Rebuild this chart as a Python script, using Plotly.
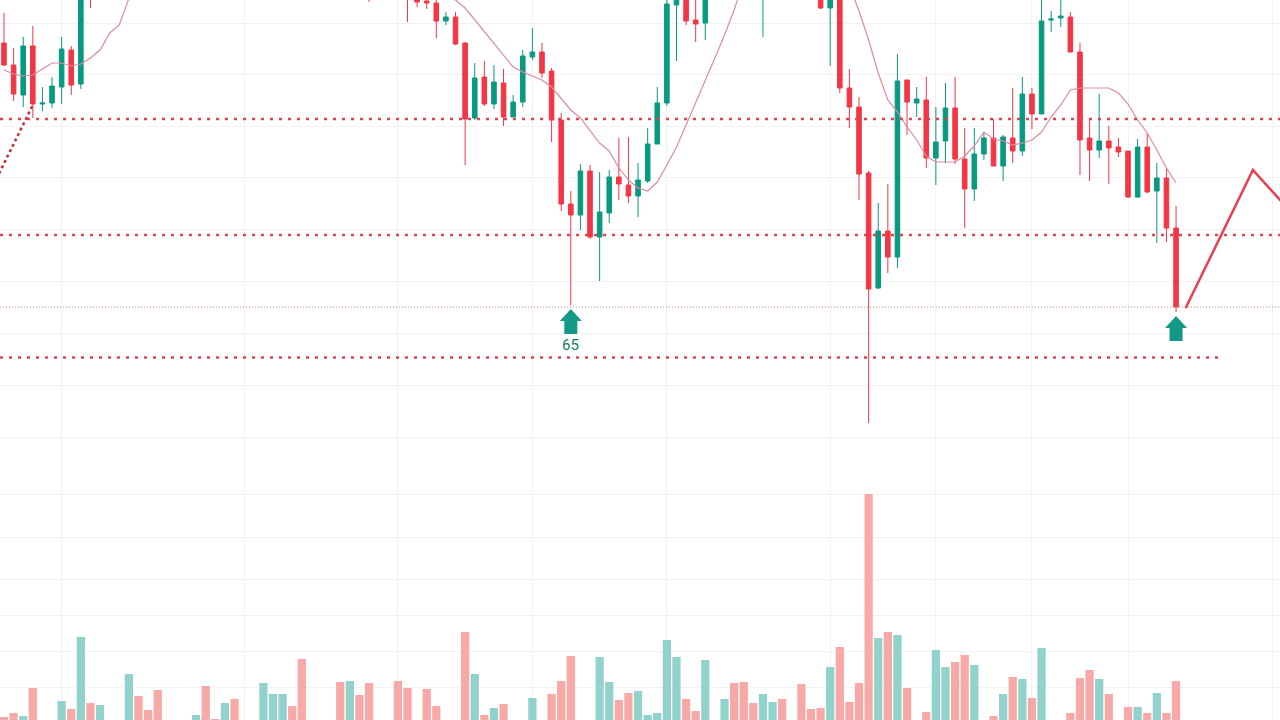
import plotly.graph_objects as go

# ---- candle data (price units) ----
opens = [677, 655, 625, 674, 616, 617, 633, 670, 636, 740,
         728, 765, 800, 790, 840, 820, 805, 780, 795, 815,
         810, 850, 820, 815, 845, 825, 835, 830, 860, 880,
         905, 890, 840, 850, 830, 815, 780, 800, 770, 735,
         750, 745, 735, 720, 719, 717, 699, 703, 677, 602,
         643, 616, 637, 603, 618, 663, 668, 649, 600, 516,
         505, 549, 483, 507, 543, 535, 524, 539, 576, 617,
         715, 725, 700, 697, 725, 760, 790, 770, 760, 740,
         755, 770, 750, 760, 735, 725, 712, 723, 632, 613,
         547, 432, 489, 463, 640, 617, 620, 562, 579, 612,
         561, 531, 566, 582, 554, 582, 569, 626, 606, 700,
         702, 703, 668, 582, 570, 579, 573, 569, 523, 573,
         529, 542, 492]
highs = [707, 672, 683, 694, 633, 643, 683, 674, 755, 755,
         775, 812, 815, 850, 855, 830, 815, 805, 820, 825,
         860, 865, 830, 855, 850, 840, 845, 870, 890, 915,
         915, 900, 860, 855, 840, 820, 810, 805, 780, 760,
         760, 755, 740, 725, 723, 722, 708, 708, 678, 657,
         659, 655, 651, 625, 670, 692, 677, 652, 607, 529,
         556, 555, 548, 550, 582, 583, 557, 592, 633, 722,
         740, 735, 722, 735, 765, 795, 800, 780, 770, 765,
         780, 775, 765, 765, 740, 730, 735, 728, 651, 623,
         549, 517, 536, 666, 640, 633, 643, 613, 637, 643,
         592, 592, 588, 601, 585, 632, 643, 632, 725, 709,
         722, 708, 677, 602, 626, 594, 582, 569, 581, 587,
         557, 551, 514]
lows = [654, 619, 613, 602, 609, 612, 616, 625, 631, 712,
        724, 760, 780, 785, 810, 795, 770, 775, 790, 800,
        805, 815, 805, 810, 815, 820, 820, 825, 850, 870,
        880, 830, 835, 820, 805, 770, 775, 760, 718, 728,
        735, 725, 698, 713, 711, 682, 695, 675, 555, 600,
        614, 611, 594, 603, 613, 660, 642, 578, 509, 415,
        490, 481, 439, 497, 520, 517, 503, 537, 576, 614,
        659, 695, 678, 680, 722, 750, 760, 750, 735, 683,
        745, 740, 745, 725, 722, 711, 654, 627, 592, 520,
        297, 431, 447, 452, 585, 603, 552, 535, 557, 556,
        492, 519, 560, 554, 539, 557, 564, 591, 606, 688,
        693, 668, 545, 539, 562, 536, 563, 522, 522, 527,
        477, 478, 408]
closes = [655, 626, 674, 616, 617, 634, 671, 635, 745, 725,
          765, 800, 790, 840, 820, 805, 780, 795, 815, 810,
          850, 820, 815, 845, 825, 835, 830, 860, 880, 905,
          890, 840, 850, 830, 815, 780, 800, 770, 735, 750,
          745, 730, 721, 718, 717, 699, 703, 676, 601, 642,
          616, 638, 603, 618, 664, 668, 647, 600, 516, 505,
          549, 483, 508, 543, 536, 524, 540, 576, 617, 716,
          730, 699, 696, 725, 760, 790, 770, 760, 740, 755,
          770, 750, 760, 735, 725, 712, 725, 632, 613, 546,
          431, 489, 463, 639, 618, 621, 562, 578, 612, 561,
          531, 566, 582, 554, 583, 569, 626, 606, 699, 701,
          704, 668, 580, 570, 579, 572, 568, 523, 573, 528,
          542, 492, 413]
volumes = [13, 17, 14, 42, 6, 8, 29, 21, 93, 27,
           25, 5, 7, 56, 34, 20, 40, 6, 4, 8,
           15, 44, 11, 27, 31, 5, 7, 47, 36, 36,
           24, 71, 6, 8, 5, 48, 49, 35, 47, 6,
           9, 49, 42, 7, 41, 24, 5, 8, 98, 56,
           15, 22, 26, 6, 9, 32, 8, 36, 49, 74,
           9, 7, 73, 48, 30, 37, 39, 15, 17, 90,
           73, 31, 19, 70, 6, 31, 47, 48, 27, 36,
           28, 31, 7, 46, 21, 22, 63, 83, 28, 47,
           236, 92, 98, 95, 42, 8, 18, 80, 63, 68,
           75, 65, 8, 14, 36, 53, 51, 32, 82, 6,
           9, 17, 52, 60, 51, 36, 9, 23, 23, 17,
           37, 17, 49]
ma_values = [650, 646, 644, 645, 651, 657, 657, 654, 656, 662,
             670, 687, 695, 722, 750, 775, 795, 810, 820, 830,
             835, 840, 842, 845, 848, 850, 848, 850, 855, 860,
             862, 860, 855, 850, 845, 835, 825, 812, 800, 785,
             770, 757, 745, 738, 733, 728, 724, 720, 712, 700,
             688, 676, 664, 653, 648, 644, 640, 633, 622, 610,
             602, 590, 577, 569, 552, 540, 532, 529, 538, 555,
             573, 595, 617, 639, 662, 685, 710, 740, 755, 765,
             772, 775, 772, 770, 765, 758, 750, 742, 734, 709,
             680, 647, 620, 608, 593, 580, 564, 558, 558, 558,
             564, 574, 588, 581, 579, 575, 577, 580, 588, 603,
             615, 630, 632, 632, 632, 632, 627, 616, 600, 587,
             570, 552, 537]

# ---- drawings ----
levels = [601, 485, 362.5]
level_ends = [132.9, 132.9, 126.8]
trend_x = [-3, 3]
trend_y = [498, 615]
proj_x = [123, 130, 135]
proj_y = [412, 550, 497]
signal_idx = [59, 122]
signal_labels = ["65", ""]
grid_x = [6, 25, 41, 55, 69, 86, 97, 107, 117, 132]
grid_y = [697, 646, 594, 543, 491, 439, 387, 335, 283, 226, 183, 141, 105, 69, 33]

UP = "#089981"
DOWN = "#F23645"
UP_VOL = "#92d2cc"
DOWN_VOL = "#f7a9a8"
LEVEL = "#e8404f"

x = list(range(len(opens)))
vol_colors = [UP_VOL if c >= o else DOWN_VOL for o, c in zip(opens, closes)]
X0, X1 = -0.416, 132.82

fig = go.Figure()
fig.add_trace(go.Bar(x=x, y=volumes, marker_color=vol_colors, marker_line_width=0,
                     width=0.86, yaxis="y2", hoverinfo="skip"))
fig.add_trace(go.Candlestick(
    x=x, open=opens, high=highs, low=lows, close=closes,
    increasing=dict(line=dict(color=UP, width=1), fillcolor=UP),
    decreasing=dict(line=dict(color=DOWN, width=1), fillcolor=DOWN),
    whiskerwidth=0))
fig.add_trace(go.Scatter(x=x, y=ma_values, mode="lines",
                         line=dict(color="#dc8aa5", width=1.2), hoverinfo="skip"))
for lv, xe in zip(levels, level_ends):
    fig.add_trace(go.Scatter(x=[X0, xe], y=[lv, lv], mode="lines",
                             line=dict(color=LEVEL, width=2.5, dash="3px,6px"), hoverinfo="skip"))
fig.add_trace(go.Scatter(x=trend_x, y=trend_y, mode="lines",
                         line=dict(color="#c0303c", width=2.5, dash="3px,3px"), hoverinfo="skip"))
fig.add_trace(go.Scatter(x=[X0, X1], y=[closes[-1], closes[-1]], mode="lines",
                         line=dict(color="#e07a86", width=1, dash="1px,2px"), hoverinfo="skip"))
fig.add_trace(go.Scatter(x=proj_x, y=proj_y, mode="lines",
                         line=dict(color="#e8404f", width=2.5), hoverinfo="skip"))

ARROW = "#129a86"
arrow_path = "M 0 -4 L 11 -16 L 6.5 -16 L 6.5 -29 L -6.5 -29 L -6.5 -16 L -11 -16 Z"
for i, lab in zip(signal_idx, signal_labels):
    fig.add_shape(type="path", xref="x", yref="y", xsizemode="pixel", ysizemode="pixel",
                  xanchor=i, yanchor=lows[i], path=arrow_path,
                  fillcolor=ARROW, line=dict(width=0))
    if lab:
        fig.add_annotation(x=i, y=lows[i], text=lab, showarrow=False, yshift=-40,
                           font=dict(family="Roboto", size=15, color="#0f7a63"))

fig.update_layout(
    width=1280, height=720, margin=dict(l=0, r=0, t=0, b=0),
    paper_bgcolor="white", plot_bgcolor="white", showlegend=False,
    boxgap=0.32,
    xaxis=dict(range=[X0, X1], tickvals=grid_x, showticklabels=False, showgrid=True,
               gridcolor="#f0f2f6", zeroline=False, rangeslider=dict(visible=False),
               showline=False, ticks=""),
    yaxis=dict(range=[0, 720], tickvals=grid_y, showticklabels=False, showgrid=True,
               gridcolor="#f0f2f6", zeroline=False, showline=False, ticks=""),
    yaxis2=dict(range=[10, 730], overlaying="y", showgrid=False, showticklabels=False,
                zeroline=False, showline=False),
)

fig.write_html("out.html", config={"displayModeBar": False},
               post_script="document.body.style.margin='0';document.body.style.overflow='hidden';")
